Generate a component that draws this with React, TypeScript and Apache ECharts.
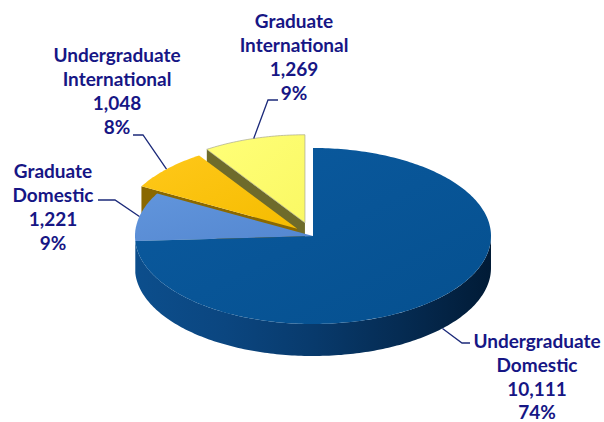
import React, { useEffect, useRef } from "react";
import * as echarts from "echarts";

// ---- data ----
const categories = [
  "Undergraduate Domestic",
  "Graduate Domestic",
  "Undergraduate International",
  "Graduate International",
];
const values = [10111, 1221, 1048, 1269];

// ---- layout / style ----
const W = 604;
const H = 422;
const CX = 313;
const CY = 236;
const RX = 178;
const RY = 88;
const DEPTH = 32;
const explode = [0, 0, 0.12, 0.157];
const drawRank = [3, 2, 1, 0];
const topColors = [
  ["#0B5A9F", "#05508F"],
  ["#6195DC", "#5487D0"],
  ["#FFC81A", "#F5BC00"],
  ["#FFFF78", "#FAF864"],
];
const sideColors = ["#0B4A86", "#0B4A86", "#8A6800", "#6E6B2B"];
const labelLayout = [
  { x: 537, y: 340, elbow: [462, 343], end: [470, 343], bottom: true },
  { x: 53, y: 170, elbow: [115, 200], end: [98, 200], bottom: false },
  { x: 117, y: 54, elbow: [143, 135], end: [133, 135], bottom: false },
  { x: 294, y: 20, elbow: [268, 100], end: [278, 100], bottom: false },
];
const LINE_STEP = 24.3;
const TEXT_COLOR = "#161685";
const LINE_COLOR = "#1c2a7a";

const RAD = Math.PI / 180;
const total = values.reduce((s, v) => s + v, 0);

function renderItem(params: any, api: any) {
  const i = params.dataIndex;
  const v = api.value(0);
  let cum = 0;
  for (let j = 0; j < i; j++) cum += values[j];
  const a = (cum / total) * 360;
  const b = ((cum + v) / total) * 360;
  const m = (a + b) / 2;
  const e = explode[i];
  const ox = e * RX * Math.sin(m * RAD);
  const oy = -e * RY * Math.cos(m * RAD);
  const P = (deg: number, dz: number) => [
    CX + ox + RX * Math.sin(deg * RAD),
    CY + oy - RY * Math.cos(deg * RAD) + dz,
  ];
  const apex = (dz: number) => [CX + ox, CY + oy + dz];
  const arc = (from: number, to: number, dz: number) => {
    const n = Math.max(2, Math.ceil(Math.abs(to - from)));
    const pts: number[][] = [];
    for (let k = 0; k <= n; k++) pts.push(P(from + ((to - from) * k) / n, dz));
    return pts;
  };
  const base = drawRank[i] * 10;
  const children: any[] = [];

  const faceFill = sideColors[i];
  if (e > 0 && Math.sin(a * RAD) < -1e-6) {
    children.push({
      type: "polygon",
      z2: base + 1,
      shape: { points: [apex(0), P(a, 0), P(a, DEPTH), apex(DEPTH)] },
      style: { fill: faceFill },
    });
  }
  if (e > 0 && Math.sin(b * RAD) > 1e-6) {
    children.push({
      type: "polygon",
      z2: base + 1,
      shape: { points: [apex(0), P(b, 0), P(b, DEPTH), apex(DEPTH)] },
      style: { fill: faceFill },
    });
  }
  const lo = Math.max(a, 90);
  const hi = Math.min(b, 270);
  if (hi - lo > 5) {
    const pts = arc(lo, hi, 0).concat(arc(hi, lo, DEPTH));
    const wallFill =
      i === 0
        ? new echarts.graphic.LinearGradient(0, 0, 1, 0, [
            { offset: 0, color: "#0C4E8C" },
            { offset: 0.25, color: "#0B4680" },
            { offset: 0.5, color: "#083A6C" },
            { offset: 0.75, color: "#052B52" },
            { offset: 1, color: "#011B36" },
          ])
        : faceFill;
    children.push({
      type: "polygon",
      z2: base + 2,
      shape: { points: pts },
      style: { fill: wallFill },
    });
  }
  children.push({
    type: "polygon",
    z2: base + 3,
    shape: { points: [apex(0)].concat(arc(a, b, 0)) },
    style: {
      fill: new echarts.graphic.LinearGradient(0, 0, 1, 1, [
        { offset: 0, color: topColors[i][0] },
        { offset: 1, color: topColors[i][1] },
      ]),
      stroke: i === 3 ? "rgba(170,170,140,0.7)" : undefined,
      lineWidth: i === 3 ? 1 : 0,
    },
  });

  const L = labelLayout[i];
  const anchor = P(m, L.bottom ? DEPTH : 0);
  children.push({
    type: "polyline",
    z2: 99,
    shape: { points: [anchor, L.elbow, L.end] },
    style: { stroke: LINE_COLOR, lineWidth: 1.3, fill: null },
  });
  const name = categories[i].split(" ");
  const pct = Math.round((v / total) * 100) + "%";
  const lines = [name[0], name[1], v.toLocaleString("en-US"), pct];
  lines.forEach((t, k) => {
    children.push({
      type: "text",
      z2: 100,
      x: L.x,
      y: Math.min(L.y + k * LINE_STEP, H - 10.5),
      style: {
        text: t,
        fill: TEXT_COLOR,
        fontFamily: "Lato",
        fontWeight: "bold",
        fontSize: 19,
        lineHeight: 20,
        align: "center",
        verticalAlign: "middle",
      },
    });
  });
  return { type: "group", children };
}

export default function App() {
  const ref = useRef<HTMLDivElement>(null);
  useEffect(() => {
    if (!ref.current) return;
    const chart = echarts.init(ref.current, undefined, { renderer: "svg" });
    chart.setOption({
      animation: false,
      backgroundColor: "#ffffff",
      series: [
        {
          type: "custom",
          coordinateSystem: "none",
          silent: true,
          data: values,
          renderItem,
        },
      ],
    });
    return () => chart.dispose();
  }, []);
  return (
    <div
      ref={ref}
      style={{ position: "fixed", left: 0, top: 0, width: W, height: H }}
    />
  );
}
